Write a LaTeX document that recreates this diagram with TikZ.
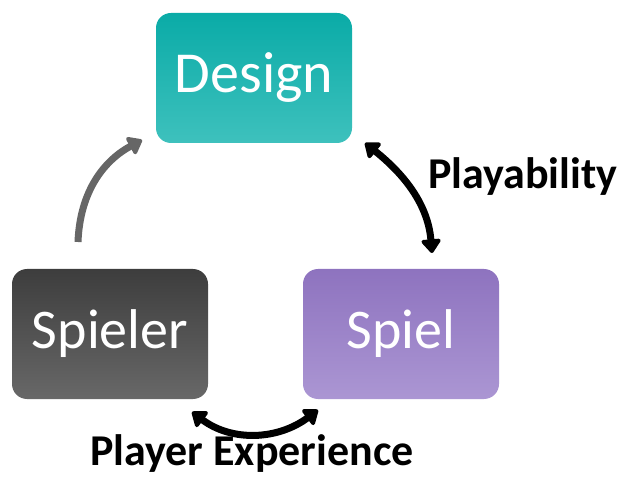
\documentclass[tikz,border=0pt]{standalone}
\usepackage{fontspec}
\setmainfont{Carlito}
\usetikzlibrary{arrows.meta}

\definecolor{designtop}{HTML}{0AABA7}
\definecolor{designmid}{HTML}{16B0AC}
\definecolor{designbot}{HTML}{3EC1BD}
\definecolor{spielertop}{HTML}{3D3D3D}
\definecolor{spielermid}{HTML}{464646}
\definecolor{spielerbot}{HTML}{686868}
\definecolor{spieltop}{HTML}{8E73BF}
\definecolor{spielmid}{HTML}{9279C1}
\definecolor{spielbot}{HTML}{AB96D3}
\definecolor{arrgray}{HTML}{666666}

\begin{document}
\begin{tikzpicture}[
  x=1pt, y=-1pt,
  box/.style={rounded corners=15pt, minimum width=196pt, minimum height=130pt,
              text=white, inner sep=0pt, font=\fontsize{56}{60}\selectfont},
  lbl/.style={font=\fontsize{44}{48}\selectfont\bfseries, inner sep=0pt},
  flow/.style={line width=7pt, -{Triangle[width=22pt,length=15pt,round]}},
  both/.style={line width=7pt, {Triangle[width=22pt,length=15pt,round]}-{Triangle[width=22pt,length=15pt,round]}}
]
  \useasboundingbox (0,0) rectangle (621,478);

  \node[box, top color=designtop, middle color=designmid, bottom color=designbot,
        font=\fontsize{58}{62}\selectfont]                    (design)  at (254,78)  {Design};
  \node[box, top color=spielertop, middle color=spielermid, bottom color=spielerbot] (spieler) at (110,334) {Spieler};
  \node[box, top color=spieltop, middle color=spielmid, bottom color=spielbot]       (spiel)   at (401,334) {Spiel};

  \coordinate (gs) at (78,242);
  \coordinate (ge) at (142,140);
  \coordinate (ps) at (365,143);
  \coordinate (pe) at (432,253);
  \coordinate (xs) at (192,412);
  \coordinate (xe) at (318,410);

  \draw[flow, arrgray] (gs) .. controls (80,190) and (105,160) .. (ge);
  \draw[both] (ps) .. controls (405,175) and (428,205) .. (pe);
  \draw[both] (xs) .. controls (232,442) and (278,440) .. (xe);

  \node[lbl, anchor=base west] (play) at (428,189) {Playability};
  \node[lbl, anchor=base west] (exp)  at (90,465)  {Player Experience};
\end{tikzpicture}
\end{document}
